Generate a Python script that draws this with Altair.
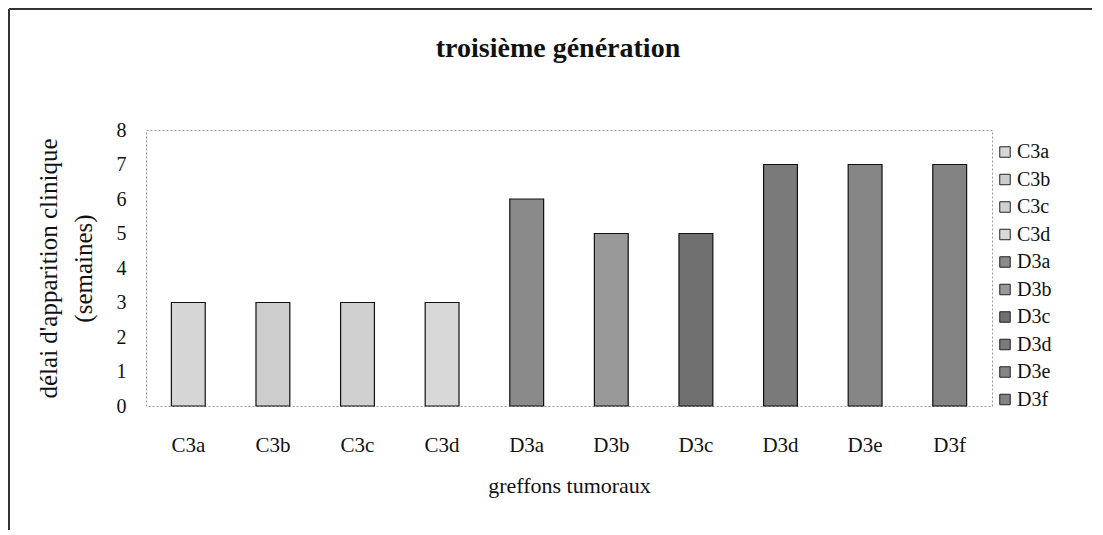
import altair as alt
import pandas as pd

categories = ["C3a", "C3b", "C3c", "C3d", "D3a", "D3b", "D3c", "D3d", "D3e", "D3f"]
values = [3, 3, 3, 3, 6, 5, 5, 7, 7, 7]
colors = ["#d6d6d6", "#cdcdcd", "#d0d0d0", "#d8d8d8",
          "#8a8a8a", "#999999", "#707070", "#7a7a7a", "#868686", "#838383"]
y_ticks = [0, 1, 2, 3, 4, 5, 6, 7, 8]

df = pd.DataFrame({"greffe": categories, "delai": values})
FONT = "Liberation Serif"

bars = alt.Chart(df).mark_bar(stroke="#111111", strokeWidth=1.2).encode(
    x=alt.X("greffe:N", sort=categories,
            scale=alt.Scale(paddingInner=0.6, paddingOuter=0.3),
            axis=alt.Axis(title="greffons tumoraux", labelAngle=0, ticks=False,
                          domain=False, labelPadding=28, titlePadding=20,
                          labelFontSize=21, titleFontSize=22)),
    y=alt.Y("delai:Q", scale=alt.Scale(domain=[0, 8], nice=False),
            axis=alt.Axis(title=["délai d'apparition clinique", "(semaines)"],
                          values=y_ticks, ticks=False, grid=False, domain=False,
                          labelPadding=20, titlePadding=20, labelFontSize=20,
                          titleFontSize=25, titleLineHeight=35)),
    color=alt.Color("greffe:N", sort=categories,
                    scale=alt.Scale(domain=categories, range=colors),
                    legend=alt.Legend(title=None, orient="none", legendX=849, legendY=12,
                                      symbolType="square", symbolSize=110,
                                      symbolStrokeColor="#222", symbolStrokeWidth=1,
                                      labelFont=FONT, labelFontSize=20, labelColor="#111",
                                      rowPadding=7.5, labelOffset=2, padding=0)),
)

frame_df = pd.DataFrame({"k": [0]})
left_line = alt.Chart(frame_df).mark_rule(color="#333", strokeWidth=2).encode(
    x=alt.value(-137), y=alt.value(-121), y2=alt.value(430))
top_line = alt.Chart(frame_df).mark_rule(color="#333", strokeWidth=2).encode(
    x=alt.value(-137), x2=alt.value(965), y=alt.value(-121))

chart = alt.layer(bars, left_line, top_line).properties(
    width=846, height=276,
    title=alt.TitleParams("troisième génération", frame="group", dx=-11),
    autosize=alt.AutoSizeParams(type="none"),
    padding={"left": 138, "top": 122, "right": 100, "bottom": 124},
).configure_view(
    stroke="#999999", strokeDash=[2, 2], strokeWidth=1
).configure_axis(
    labelFont=FONT, titleFont=FONT, titleFontWeight="normal",
    labelColor="#111", titleColor="#111"
).configure_title(
    font=FONT, fontSize=28, fontWeight="bold", anchor="middle", offset=-55, color="#111"
)

chart.save("out.html", embed_options={"renderer": "svg", "actions": False})
